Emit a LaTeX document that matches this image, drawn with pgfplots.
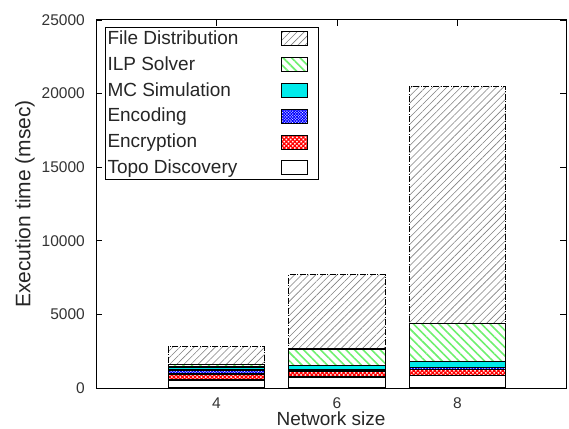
\documentclass[border=0pt]{standalone}
\usepackage{fontspec}
\setmainfont{Liberation Sans}
\usepackage{pgfplots}
\pgfplotsset{compat=1.18}
\usetikzlibrary{patterns,patterns.meta}
\definecolor{mycyan}{RGB}{0,235,235}
\definecolor{mygreen}{RGB}{110,240,110}
\begin{document}
\begin{tikzpicture}
\useasboundingbox (0,0) rectangle (569pt,428pt);
\begin{axis}[
  at={(96pt,40pt)}, anchor=south west,
  scale only axis, width=470pt, height=368pt,
  ybar stacked, bar width=1.6,
  xmin=2, xmax=9.8, ymin=0, ymax=25000,
  xtick={4,6,8}, ytick={0,5000,10000,15000,20000,25000},
  tick align=inside, major tick length=6pt,
  scaled y ticks=false,
  /pgf/number format/assume math mode=true,
  /pgf/number format/1000 sep={},
  tick style={black, line width=0.8pt},
  axis line style={line width=1pt},
  ticklabel style={font=\fontsize{15.5}{17}\selectfont, text=black!80},
  xticklabel style={anchor=base, inner sep=0pt, yshift=-20pt},
  yticklabel style={anchor=east, inner sep=0pt, xshift=-11pt},
  xlabel={Network size}, ylabel={Execution time (msec)},
  xlabel style={font=\fontsize{19}{21}\selectfont, text=black!85, at={(axis description cs:0.5,-0.102)}, anchor=base},
  ylabel style={font=\fontsize{21}{23}\selectfont, text=black!85, at={(axis description cs:-0.151,0.5)}, anchor=center, rotate=0},
  reverse legend,
  legend cell align=left,
  legend plot pos=right,
  legend image code/.code={\draw[#1, line width=1pt, solid] (0pt,-7pt) rectangle (26pt,7pt); \path[draw=none, fill=none] (26pt,0pt) -- (36pt,0pt);},
  legend style={at={(axis description cs:0,1)}, anchor=north west, xshift=9pt, yshift=-7pt,
    font=\fontsize{19}{21}\selectfont, draw=black, line width=1pt, inner sep=1pt,
    row sep=4.8pt, column sep=0pt,
    nodes={inner sep=1pt, text height=15pt, text depth=4pt, text=black!85}},
]
\addplot[draw=black, line width=1.2pt, fill=white]
  coordinates {(4,550) (6,750) (8,850)};
\addlegendentry{\makebox[172pt][l]{Topo Discovery}}
\addplot[draw=black, line width=1.2pt, pattern={Hatch[angle=45,distance=3pt,line width=1.3pt]}, pattern color=red]
  coordinates {(4,400) (6,400) (8,400)};
\addlegendentry{\makebox[172pt][l]{Encryption}}
\addplot[draw=black, line width=1.2pt, pattern={Hatch[angle=45,distance=2pt,line width=0.9pt]}, pattern color=blue]
  coordinates {(4,270) (6,100) (8,150)};
\addlegendentry{\makebox[172pt][l]{Encoding}}
\addplot[draw=black, line width=1.2pt, fill=mycyan]
  coordinates {(4,200) (6,300) (8,400)};
\addlegendentry{\makebox[172pt][l]{MC Simulation}}
\addplot[draw=black, line width=1.2pt, pattern={Lines[angle=-45,distance=6pt,line width=1.6pt]}, pattern color=mygreen]
  coordinates {(4,200) (6,1100) (8,2600)};
\addlegendentry{\makebox[172pt][l]{ILP Solver}}
\addplot[draw=black, line width=1.2pt, dash pattern=on 6pt off 1.5pt on 1pt off 1.5pt, pattern={Lines[angle=45,distance=5pt,line width=0.6pt]}, pattern color=gray]
  coordinates {(4,1180) (6,5050) (8,16100)};
\addlegendentry{\makebox[172pt][l]{File Distribution}}
\end{axis}
\end{tikzpicture}
\end{document}
